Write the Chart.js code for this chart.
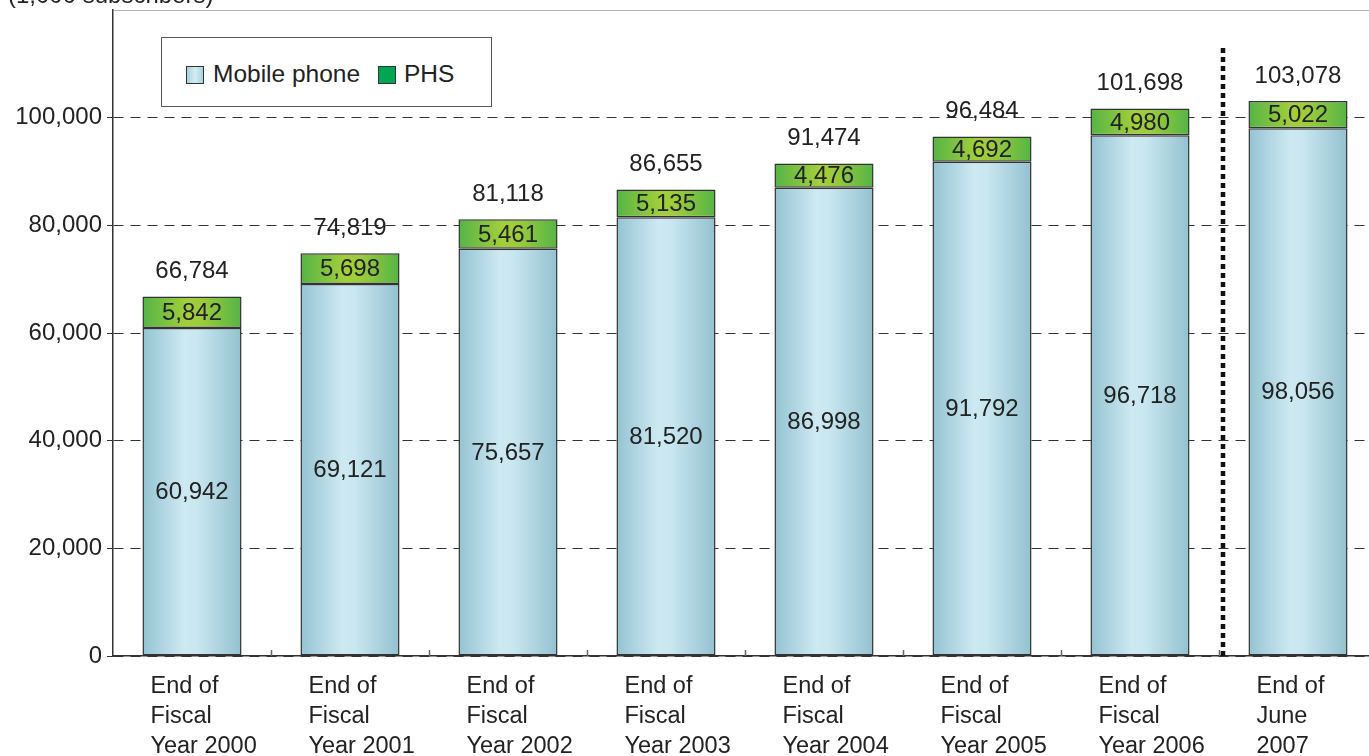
<!DOCTYPE html>
<html>
<head>
<meta charset="utf-8">
<script src="https://cdn.jsdelivr.net/npm/chart.js@4/dist/chart.umd.min.js"></script>
<style>
  html, body { margin: 0; padding: 0; background: #fff; overflow: hidden; }
  #wrap { position: relative; width: 1369px; height: 756px; overflow: hidden; }
  #chart { position: absolute; left: 0; top: 0; }
  #legend {
    position: absolute; left: 161px; top: 37px; width: 329px; height: 68px;
    border: 1px solid #555; background: #fff;
    font: 24.5px "Liberation Sans", Arial, sans-serif; color: #222;
  }
  #legend .box { position: absolute; top: 28px; width: 16px; height: 16px; border: 1px solid #333; }
  #legend .txt { position: absolute; top: 23px; line-height: 26px; white-space: nowrap; }
</style>
</head>
<body>
<div id="wrap">
  <canvas id="chart" width="1400" height="756"></canvas>
  <div id="legend">
    <span class="box" style="left:24px;background:linear-gradient(90deg,#a9d2de,#d3edf4,#a9d2de);"></span>
    <span class="txt" style="left:51px;">Mobile phone</span>
    <span class="box" style="left:216px;background:#00a651;"></span>
    <span class="txt" style="left:242px;">PHS</span>
  </div>
</div>
<script>
// Data
const categories = [
  ['End of', 'Fiscal', 'Year 2000'],
  ['End of', 'Fiscal', 'Year 2001'],
  ['End of', 'Fiscal', 'Year 2002'],
  ['End of', 'Fiscal', 'Year 2003'],
  ['End of', 'Fiscal', 'Year 2004'],
  ['End of', 'Fiscal', 'Year 2005'],
  ['End of', 'Fiscal', 'Year 2006'],
  ['End of', 'June', '2007']
];
const mobileValues = [60942, 69121, 75657, 81520, 86998, 91792, 96718, 98056];
const phsValues = [5842, 5698, 5461, 5135, 4476, 4692, 4980, 5022];
const totals = [66784, 74819, 81118, 86655, 91474, 96484, 101698, 103078];
const yTicks = [0, 20000, 40000, 60000, 80000, 100000, 120000];
const unitLabel = '(1,000 subscribers)';

const FONT = '"Liberation Sans", Arial, sans-serif';
const BAR_PCT = 0.627;
const fmt = v => v.toLocaleString('en-US');

// horizontal gradient across each bar (cylinder look)
const barGradient = (stops) => (ctx) => {
  const chart = ctx.chart;
  const x = chart.scales && chart.scales.x;
  if (!x || !x.width || ctx.dataIndex === undefined) return stops[1][1];
  const cx = x.getPixelForValue(ctx.dataIndex);
  const half = (x.width / categories.length) * BAR_PCT / 2;
  const g = chart.ctx.createLinearGradient(cx - half, 0, cx + half, 0);
  stops.forEach(s => g.addColorStop(s[0], s[1]));
  return g;
};

const blueStops = [[0, '#94c3d2'], [0.42, '#cde9f2'], [0.55, '#c9e7f0'], [1, '#93c1cf']];
const greenStops = [[0, '#55b446'], [0.45, '#a3cf3a'], [0.6, '#9ccc3b'], [1, '#55b446']];

const valueLabels = {
  id: 'valueLabels',
  afterDatasetsDraw(chart) {
    const { ctx } = chart;
    const m0 = chart.getDatasetMeta(0).data;
    const m1 = chart.getDatasetMeta(1).data;
    ctx.save();
    ctx.font = '24px ' + FONT;
    ctx.fillStyle = '#222';
    ctx.textAlign = 'center';
    ctx.textBaseline = 'middle';
    m0.forEach((bar, i) => {
      ctx.fillText(fmt(mobileValues[i]), bar.x, (bar.y + bar.base) / 2 + 1);
      const top = m1[i];
      ctx.fillText(fmt(phsValues[i]), top.x, (top.y + top.base) / 2 + 1);
      ctx.fillText(fmt(totals[i]), top.x, top.y - 25);
    });
    ctx.restore();
  }
};

const decorations = {
  id: 'decorations',
  afterDraw(chart) {
    const { ctx, chartArea } = chart;
    const x = chart.scales.x;
    const catW = x.width / categories.length;
    ctx.save();

    // unit label, cut off at the top edge
    ctx.font = '24px ' + FONT;
    ctx.fillStyle = '#222';
    ctx.textAlign = 'left';
    ctx.textBaseline = 'alphabetic';
    ctx.fillText(unitLabel, 8, 3);

    // small upward ticks between categories
    ctx.strokeStyle = '#666';
    ctx.lineWidth = 1.5;
    for (let i = 1; i < categories.length; i++) {
      const bx = Math.round(x.getPixelForValue(i) - catW / 2) + 0.5;
      ctx.beginPath();
      ctx.moveTo(bx, chartArea.bottom);
      ctx.lineTo(bx, chartArea.bottom - 6);
      ctx.stroke();
    }

    // dotted separator before the last column
    const sx = (x.getPixelForValue(categories.length - 2) + x.getPixelForValue(categories.length - 1)) / 2 + 4;
    ctx.strokeStyle = '#111';
    ctx.lineWidth = 4.5;
    ctx.setLineDash([5, 4]);
    ctx.beginPath();
    ctx.moveTo(sx, chartArea.top + 38);
    ctx.lineTo(sx, chartArea.bottom);
    ctx.stroke();
    ctx.setLineDash([]);

    // category labels, left aligned under each bar
    ctx.font = '23.5px ' + FONT;
    ctx.fillStyle = '#222';
    ctx.textBaseline = 'middle';
    categories.forEach((lines, i) => {
      const lx = x.getPixelForValue(i) - catW * BAR_PCT / 2 + 8;
      lines.forEach((t, k) => ctx.fillText(t, lx, chartArea.bottom + 31 + k * 30));
    });
    ctx.restore();
  }
};

new Chart(document.getElementById('chart'), {
  type: 'bar',
  data: {
    labels: categories,
    datasets: [
      {
        label: 'Mobile phone',
        data: mobileValues,
        backgroundColor: barGradient(blueStops),
        borderColor: '#333',
        borderWidth: 1.5,
        borderSkipped: false
      },
      {
        label: 'PHS',
        data: phsValues,
        backgroundColor: barGradient(greenStops),
        borderColor: '#333',
        borderWidth: 1.5,
        borderSkipped: false
      }
    ]
  },
  options: {
    responsive: false,
    animation: false,
    devicePixelRatio: 1,
    layout: { padding: { top: 10, right: 23, left: 0, bottom: 0 } },
    datasets: { bar: { barPercentage: BAR_PCT, categoryPercentage: 1 } },
    plugins: { legend: { display: false }, tooltip: { enabled: false } },
    scales: {
      x: {
        stacked: true,
        offset: true,
        grid: { display: false },
        border: { display: true, color: '#333', width: 1.5 },
        ticks: { display: false },
        afterFit: s => { s.height = 100; }
      },
      y: {
        stacked: true,
        min: 0,
        max: 120000,
        afterBuildTicks: s => { s.ticks = yTicks.map(v => ({ value: v })); },
        ticks: {
          padding: 5,
          color: '#222',
          font: { family: FONT, size: 24 },
          callback: v => (v === 120000 ? '' : fmt(v))
        },
        grid: {
          color: c => (c.tick && c.tick.value === 120000 ? '#b5b5b5' : '#333'),
          lineWidth: 1,
          tickLength: 6,
          tickColor: c => (c.tick && c.tick.value === 120000 ? 'rgba(0,0,0,0)' : '#333'),
          tickBorderDash: []
        },
        border: {
          display: true,
          color: '#333',
          width: 1.5,
          dash: c => (c.tick && c.tick.value === 120000 ? [] : [10, 7])
        },
        afterFit: s => { s.width = 113; s.paddingTop = 0; s.paddingBottom = 0; }
      }
    }
  },
  plugins: [valueLabels, decorations]
});
</script>
</body>
</html>
